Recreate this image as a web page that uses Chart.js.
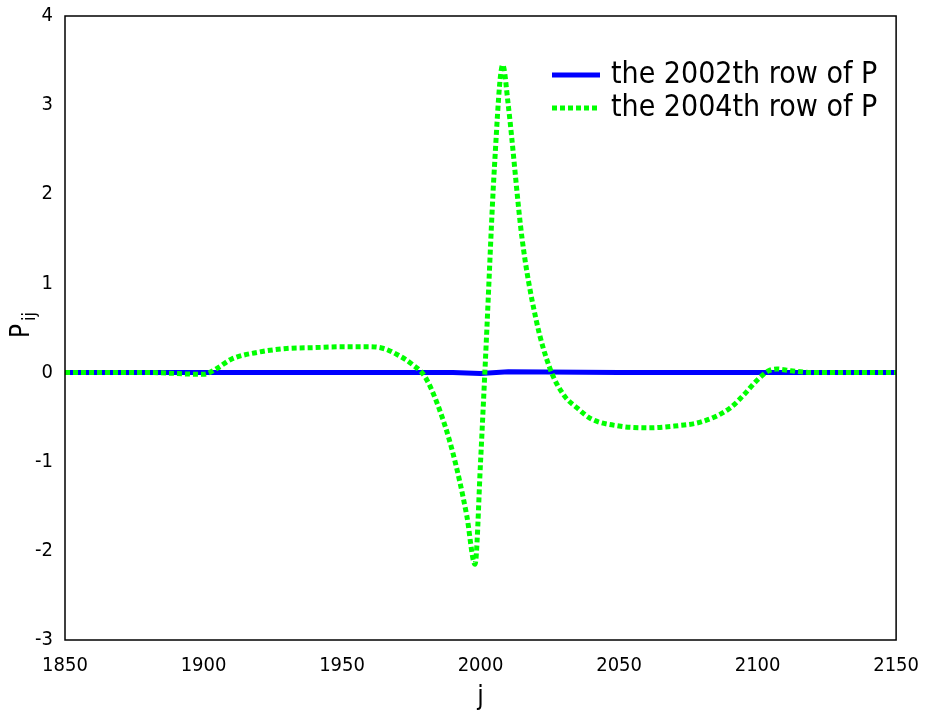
<!DOCTYPE html>
<html><head><meta charset="utf-8">
<script src="https://cdn.jsdelivr.net/npm/chart.js@4"></script>
<style>body{margin:0;background:#fff}#wrap{width:925px;height:713px}</style>
</head><body><div id="wrap"><canvas id="c"></canvas></div>
<script>
const seriesNames = ['the 2002th row of P', 'the 2004th row of P'];
const rowX = [1850,1880,1900,1905,1910,1920,1930,1940,1950,1960,1965,1970,1975,1980,1985,1990,1995,1998,2000,2002,2005,2008,2010,2015,2020,2025,2030,2035,2040,2050,2060,2070,2080,2090,2095,2100,2104,2107,2112,2120,2150];
const row2004 = [0,0,-0.02,0.05,0.15,0.23,0.27,0.28,0.29,0.29,0.27,0.2,0.1,-0.05,-0.4,-0.9,-1.6,-2.15,-1.0,0.3,2.3,3.45,3.0,1.5,0.6,0.05,-0.25,-0.4,-0.52,-0.6,-0.62,-0.6,-0.55,-0.4,-0.25,-0.08,0.02,0.04,0.02,0,0];
const row2002X = [1850,1900,1950,1990,2000,2010,2050,2100,2150];
const row2002 = [0,0,0,0,-0.01,0.01,0,0,0];
const xTicks = [1850,1900,1950,2000,2050,2100,2150];
const yTicks = [-3,-2,-1,0,1,2,3,4];

const font = '"DejaVu Sans Condensed","Liberation Sans Narrow","Liberation Sans",sans-serif';
const colors = ['#0000ff', '#00ff00'];

const extras = {
  id: 'extras',
  afterDraw(chart) {
    const ctx = chart.ctx, a = chart.chartArea;
    ctx.save();
    ctx.strokeStyle = '#000'; ctx.lineWidth = 1.5;
    ctx.strokeRect(a.left, a.top, a.right - a.left, a.bottom - a.top);
    // legend
    ctx.font = '30px ' + font; ctx.fillStyle = '#000'; ctx.textBaseline = 'middle';
    seriesNames.forEach((n, i) => {
      const y = 75 + i * 33;
      ctx.strokeStyle = colors[i]; ctx.lineWidth = 5;
      ctx.setLineDash(i ? [5, 3] : []);
      ctx.beginPath(); ctx.moveTo(552, y); ctx.lineTo(600, y); ctx.stroke();
      ctx.fillText(n, 611, y);
    });
    ctx.setLineDash([]);
    // axis titles
    ctx.font = '26px ' + font; ctx.textAlign = 'center';
    ctx.fillText('j', (a.left + a.right) / 2, 697);
    ctx.translate(22, 330); ctx.rotate(-Math.PI / 2);
    ctx.textAlign = 'left';
    ctx.fillText('P', -8, 0);
    ctx.font = '18px ' + font;
    ctx.fillText('ij', 9, 8);
    ctx.restore();
  }
};

new Chart(document.getElementById('c'), {
  type: 'line',
  data: {
    datasets: [
      { label: seriesNames[0], data: row2002X.map((x, i) => ({x, y: row2002[i]})), borderColor: colors[0], borderWidth: 5, pointRadius: 0, tension: 0, order: 2 },
      { label: seriesNames[1], data: rowX.map((x, i) => ({x, y: row2004[i]})), borderColor: colors[1], borderWidth: 5, borderDash: [5, 3], pointRadius: 0, cubicInterpolationMode: 'monotone', order: 1 }
    ]
  },
  options: {
    responsive: true, maintainAspectRatio: false, animation: false,
    layout: { autoPadding: false, padding: { top: 8, right: 24, left: 0, bottom: 0 } },
    plugins: { legend: { display: false }, tooltip: { enabled: false } },
    scales: {
      x: {
        type: 'linear', min: 1850, max: 2150,
        afterBuildTicks: s => { s.ticks = xTicks.map(v => ({value: v})); },
        afterFit: s => { s.height = 73; },
        grid: { display: false }, border: { display: false },
        ticks: { color: '#000', font: { family: font, size: 20 }, padding: 6, maxRotation: 0, callback: v => String(v) }
      },
      y: {
        min: -3, max: 4,
        afterBuildTicks: s => { s.ticks = yTicks.map(v => ({value: v})); },
        afterFit: s => { s.width = 65; },
        grid: { display: false }, border: { display: false },
        ticks: { color: '#000', font: { family: font, size: 20 }, padding: 4 }
      }
    }
  },
  plugins: [extras]
});
</script></body></html>
